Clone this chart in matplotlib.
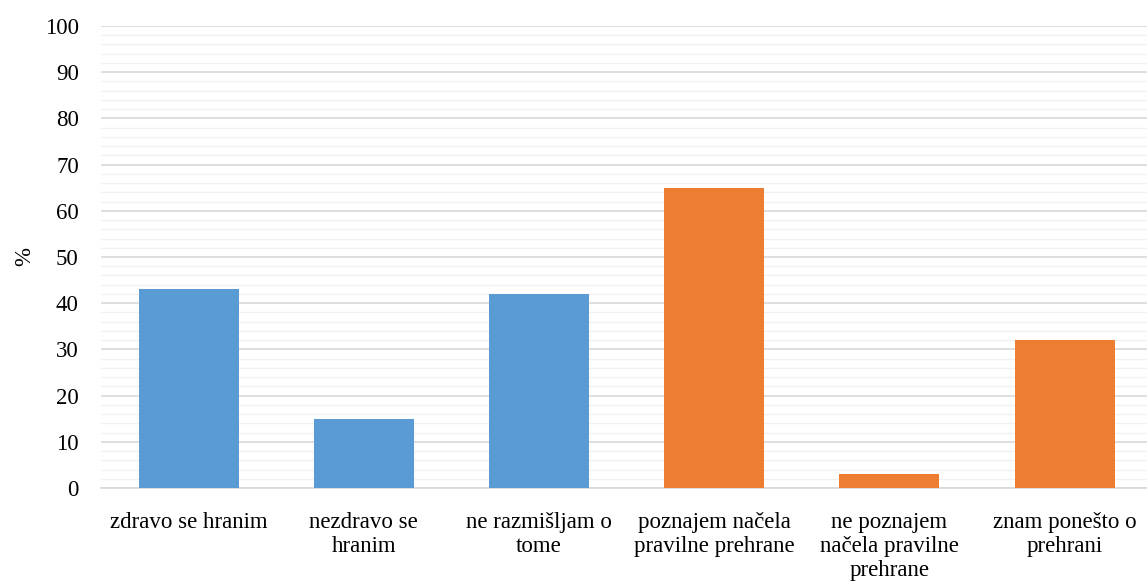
import matplotlib
matplotlib.use("Agg")
import matplotlib.pyplot as plt
from matplotlib.ticker import MultipleLocator

categories = ["zdravo se hranim", "nezdravo se\nhranim", "ne razmišljam o\ntome",
              "poznajem načela\npravilne prehrane", "ne poznajem\nnačela pravilne\nprehrane",
              "znam ponešto o\nprehrani"]
values = [43, 15, 42, 65, 3, 32]
colors = ["#5B9BD5", "#5B9BD5", "#5B9BD5", "#ED7D31", "#ED7D31", "#ED7D31"]
yticks = [0, 10, 20, 30, 40, 50, 60, 70, 80, 90, 100]

plt.rcParams['font.family'] = ['Liberation Serif', 'DejaVu Serif']

W, H = 1147, 587
fig = plt.figure(figsize=(W/100, H/100), dpi=100)
left, right, top, bottom = 101, 1147, 26, 488
step = 175.2
ax = fig.add_axes([left/W, 1 - bottom/H, (right-left)/W, (bottom-top)/H])

x = list(range(len(values)))
ax.bar(x, values, width=100/step, color=colors, zorder=3)

ax.set_ylim(0, 100)
ax.set_xlim(-0.5, -0.5 + (right-left)/step)
ax.set_yticks(yticks)
ax.yaxis.set_minor_locator(MultipleLocator(2))
ax.grid(axis='y', which='major', color='#d9d9d9', lw=1.2, zorder=0)
ax.grid(axis='y', which='minor', color='#f0f0f0', lw=1.0, zorder=0)
ax.set_xticks(x)
ax.set_xticklabels(categories, fontsize=16.5, linespacing=1.2, va='top')
ax.tick_params(axis='x', length=0, pad=17)
ax.tick_params(axis='y', which='both', length=0, labelsize=16.5, pad=16)
for s in ['top', 'right', 'left']:
    ax.spines[s].set_visible(False)
ax.spines['bottom'].set_color('#d9d9d9')
ax.spines['bottom'].set_linewidth(1.2)
ax.set_ylabel('%', fontsize=16.5)
ax.yaxis.set_label_coords(-0.063, 0.5)

fig.savefig("out.png", dpi=100)
